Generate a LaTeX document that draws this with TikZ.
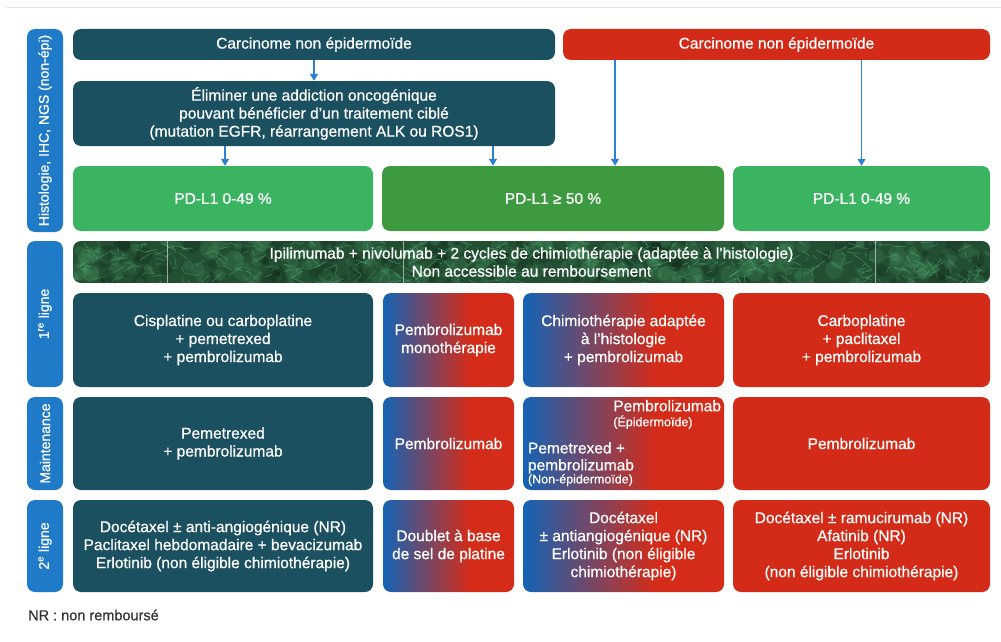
\documentclass[tikz,border=0pt]{standalone}
\usepackage{fontspec}
\setmainfont{Liberation Sans}[FakeBold=0.7]
\usetikzlibrary{arrows.meta,calc}
\definecolor{cteal}{HTML}{1B5061}
\definecolor{cred}{HTML}{D32B18}
\definecolor{cblue}{HTML}{1F7BC8}
\definecolor{clgreen}{HTML}{3BB461}
\definecolor{cdgreen}{HTML}{3E9A41}
\definecolor{carrow}{HTML}{2E80D3}
\definecolor{gblue}{HTML}{1463B5}
\definecolor{gred}{HTML}{D42C19}
\definecolor{ipibg}{HTML}{224F31}
\definecolor{ipilight}{HTML}{5DBB82}
\definecolor{notegray}{HTML}{333333}
\pgfdeclarehorizontalshading{bluered}{100bp}{color(0bp)=(gblue); color(25bp)=(gblue); color(58bp)=(gred); color(100bp)=(gred)}
\begin{document}
\begin{tikzpicture}[x=1pt,y=-1pt,
  box/.style={rounded corners=8pt, text=white, align=center, inner sep=2pt,
    font=\fontsize{15.5}{18}\selectfont},
  tealbox/.style={box, fill=cteal},
  redbox/.style={box, fill=cred},
  gradbox/.style={box, shading=bluered},
  lgbox/.style={box, fill=clgreen},
  dgbox/.style={box, fill=cdgreen},
  sidelab/.style={rounded corners=8pt, fill=cblue, text=white, rotate=90, inner sep=1pt,
    minimum height=36pt, font=\fontsize{14}{16}\selectfont},
  arr/.style={draw=carrow, line width=1.3pt, -{Triangle[width=8pt,length=7pt]}},
  smallt/.style={font=\fontsize{12.5}{13}\selectfont}
]
\useasboundingbox (0,0) rectangle (1001,642);
\draw[gray!20, line width=0.8pt] (6,7) -- (1001,7);

% side labels
\node[sidelab, minimum width=203pt] (lab1) at (45,130.5) {Histologie, IHC, NGS (non-épi)};
\node[sidelab, minimum width=146pt] (lab2) at (45,314) {1\textsuperscript{re} ligne};
\node[sidelab, minimum width=93pt] (lab3) at (45,443.5) {Maintenance};
\node[sidelab, minimum width=92pt] (lab4) at (45,546) {2\textsuperscript{e} ligne};

% top rows
\node[tealbox, minimum width=482pt, minimum height=31pt] (top1) at (314,44.5) {Carcinome non épidermoïde};
\node[redbox, minimum width=427pt, minimum height=31pt] (top2) at (776.5,44.5) {Carcinome non épidermoïde};
\node[tealbox, minimum width=482pt, minimum height=65pt] (elim) at (314,113.5)
  {Éliminer une addiction oncogénique\\pouvant bénéficier d’un traitement ciblé\\(mutation EGFR, réarrangement ALK ou ROS1)};

\node[lgbox, minimum width=300pt, minimum height=65pt] (g1) at (223,198.5) {PD-L1 0-49 \%};
\node[dgbox, minimum width=342pt, minimum height=65pt] (g2) at (553,198.5) {PD-L1 ≥ 50 \%};
\node[lgbox, minimum width=257pt, minimum height=65pt] (g3) at (861.5,198.5) {PD-L1 0-49 \%};

% arrows
\draw[arr] (top1.south) -- (elim.north);
\coordinate (a1) at ([xshift=2pt]g1.north);
\coordinate (a2) at ([xshift=-60pt]g2.north);
\coordinate (a3) at ([xshift=62pt]g2.north);
\draw[arr] (a1 |- elim.south) -- (a1);
\draw[arr] (a2 |- elim.south) -- (a2);
\draw[arr] (a3 |- top2.south) -- (a3);
\draw[arr] (g3.north |- top2.south) -- (g3.north);

% ipilimumab textured band
\begin{scope}
  \clip[rounded corners=8pt] (73,241) rectangle (990,283);
  \fill[ipibg] (73,241) rectangle (990,283);
  \pgfmathsetseed{11}
  \foreach \i in {1,...,220}{
    \pgfmathsetmacro\xa{73+917*rnd}
    \pgfmathsetmacro\ya{241+42*rnd}
    \pgfmathsetmacro\rr{3+7*rnd}
    \fill[ipilight, opacity=0.14] (\xa,\ya) circle (\rr);
  }
  \foreach \i in {1,...,120}{
    \pgfmathsetmacro\xa{73+917*rnd}
    \pgfmathsetmacro\ya{241+42*rnd}
    \pgfmathsetmacro\rr{3+6*rnd}
    \fill[black, opacity=0.15] (\xa,\ya) circle (\rr);
  }
  \foreach \i in {1,...,420}{
    \pgfmathsetmacro\xa{73+917*rnd}
    \pgfmathsetmacro\ya{241+42*rnd}
    \pgfmathsetmacro\dx{(rnd-0.5)*26}
    \pgfmathsetmacro\dy{(rnd-0.5)*16}
    \draw[ipilight, line width=0.8pt, opacity=0.4, line cap=round] (\xa,\ya) -- ++(\dx,\dy);
  }
  \draw[white, opacity=0.55, line width=0.6pt] (167,241) -- (167,283);
  \draw[white, opacity=0.55, line width=0.6pt] (403,241) -- (403,283);
  \draw[white, opacity=0.55, line width=0.6pt] (875,241) -- (875,283);
\end{scope}
\node[box, minimum width=917pt, minimum height=42pt] (ipi) at (531.5,262)
  {Ipilimumab + nivolumab + 2 cycles de chimiothérapie (adaptée à l’histologie)\\Non accessible au remboursement};

% 1re ligne
\node[tealbox, minimum width=300pt, minimum height=94pt] (r1a) at (223,340)
  {Cisplatine ou carboplatine\\+ pemetrexed\\+ pembrolizumab};
\node[gradbox, minimum width=131pt, minimum height=94pt] (r1b) at (448.5,340)
  {Pembrolizumab\\monothérapie};
\node[gradbox, minimum width=201pt, minimum height=94pt] (r1c) at (623.5,340)
  {Chimiothérapie adaptée\\à l’histologie\\+ pembrolizumab};
\node[redbox, minimum width=257pt, minimum height=94pt] (r1d) at (861.5,340)
  {Carboplatine\\+ paclitaxel\\+ pembrolizumab};

% maintenance
\node[tealbox, minimum width=300pt, minimum height=93pt] (r2a) at (223,443.5)
  {Pemetrexed\\+ pembrolizumab};
\node[gradbox, minimum width=131pt, minimum height=93pt] (r2b) at (448.5,443.5)
  {Pembrolizumab};
\node[gradbox, minimum width=201pt, minimum height=93pt] (r2c) at (623.5,443.5) {};
\node[text=white, align=left, anchor=north east, inner sep=0pt,
  font=\fontsize{15.5}{15}\selectfont] (r2c1) at ([xshift=-3pt,yshift=-3pt]r2c.north east)
  {Pembrolizumab\\{\fontsize{12.5}{13}\selectfont (Épidermoïde)}};
\node[text=white, align=left, anchor=south west, inner sep=0pt,
  font=\fontsize{15.5}{17}\selectfont] (r2c2) at ([xshift=5pt,yshift=4pt]r2c.south west)
  {Pemetrexed +\\pembrolizumab\\[-4pt]{\fontsize{12.5}{13}\selectfont (Non-épidermoïde)}};
\node[redbox, minimum width=257pt, minimum height=93pt] (r2d) at (861.5,443.5)
  {Pembrolizumab};

% 2e ligne
\node[tealbox, minimum width=300pt, minimum height=92pt] (r3a) at (223,546)
  {Docétaxel ± anti-angiogénique (NR)\\Paclitaxel hebdomadaire + bevacizumab\\Erlotinib (non éligible chimiothérapie)};
\node[gradbox, minimum width=131pt, minimum height=92pt] (r3b) at (448.5,546)
  {Doublet à base\\de sel de platine};
\node[gradbox, minimum width=201pt, minimum height=92pt] (r3c) at (623.5,546)
  {Docétaxel\\± antiangiogénique (NR)\\Erlotinib (non éligible\\chimiothérapie)};
\node[redbox, minimum width=257pt, minimum height=92pt] (r3d) at (861.5,546)
  {Docétaxel ± ramucirumab (NR)\\Afatinib (NR)\\Erlotinib\\(non éligible chimiothérapie)};

\node[anchor=west, text=notegray, inner sep=0pt, font=\fontsize{14.5}{16}\selectfont] (nr) at (28,615) {NR : non remboursé};
\end{tikzpicture}
\end{document}
